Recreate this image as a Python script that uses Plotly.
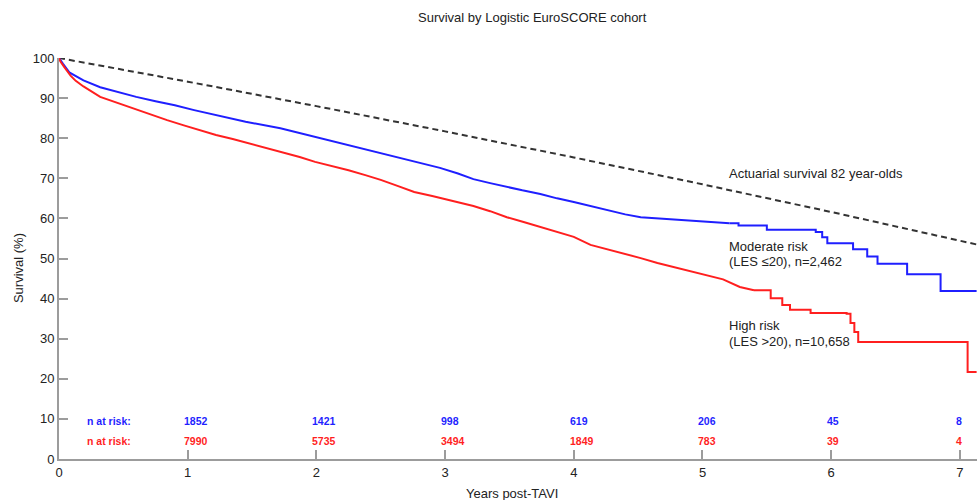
import plotly.graph_objects as go

# ---- data ----
t_mod = [0, 0.01, 0.03, 0.08, 0.19, 0.32, 0.45, 0.6, 0.75, 0.9, 1.05, 1.2, 1.45, 1.72,
         1.97, 2.24, 2.49, 2.75, 2.96, 3.1, 3.22, 3.35, 3.48, 3.6, 3.74, 3.87, 4.0, 4.15,
         4.26, 4.4, 4.52, 4.77, 5.03, 5.21, 5.28, 5.5, 5.88, 5.93, 5.97, 6.17, 6.28, 6.36,
         6.59, 6.85, 7.13]
s_mod = [100, 99.5, 98.6, 96.4, 94.4, 92.7, 91.5, 90.3, 89.2, 88.2, 87.0, 85.9, 84.1, 82.5,
         80.5, 78.3, 76.3, 74.1, 72.6, 71.2, 69.8, 68.8, 67.8, 67.0, 66.1, 65.0, 64.1, 62.9,
         62.1, 61.0, 60.3, 59.8, 59.2, 58.8, 58.2, 57.2, 56.6, 55.3, 53.8, 52.3, 50.5, 48.7,
         46.1, 41.9, 41.9]

t_high = [0, 0.01, 0.04, 0.09, 0.13, 0.19, 0.32, 0.45, 0.58, 0.71, 0.84, 0.97, 1.1, 1.22, 1.35,
          1.48, 1.61, 1.74, 1.87, 1.99, 2.12, 2.25, 2.38, 2.5, 2.63, 2.76, 2.9, 3.02, 3.22,
          3.35, 3.48, 3.61, 3.74, 3.87, 4.0, 4.13, 4.26, 4.38, 4.52, 4.65, 4.77, 4.9, 5.03,
          5.16, 5.29, 5.4, 5.53, 5.62, 5.68, 5.84, 6.12, 6.15, 6.18, 6.21, 7.06, 7.13]
s_high = [100, 99.2, 97.8, 95.6, 94.3, 92.9, 90.3, 88.8, 87.5, 85.9, 84.5, 83.2, 82.0, 80.8, 79.8,
          78.7, 77.6, 76.5, 75.3, 74.1, 73.1, 72.0, 70.8, 69.6, 68.1, 66.6, 65.6, 64.6, 63.1,
          61.8, 60.3, 59.1, 57.9, 56.7, 55.4, 53.4, 52.3, 51.4, 50.1, 48.9, 47.9, 47.0, 45.9,
          44.8, 42.9, 42.1, 40.1, 38.4, 37.2, 36.4, 36.2, 33.9, 31.7, 29.2, 21.7, 21.7]

t_act = [0, 1, 2, 3, 4, 5, 6, 7, 7.13]
s_act = [100, 94.1, 88.0, 81.7, 75.2, 68.5, 61.6, 54.4, 53.5]

risk_years = [1, 2, 3, 4, 5, 6, 7]
risk_mod = [1852, 1421, 998, 619, 206, 45, 8]
risk_high = [7990, 5735, 3494, 1849, 783, 39, 4]

BLUE = "#1f1fff"
RED = "#ff1f1f"
AXIS = "#9c9c9c"
TXT = "#222222"
FONT = "Liberation Sans, Arial, sans-serif"

fig = go.Figure()
fig.add_trace(go.Scatter(x=t_act, y=s_act, mode="lines", line=dict(color="#333333", width=2, dash="6px,4px"),
                         hoverinfo="skip"))


def add_km(t, s, color, step_from):
    # dense early part drawn as a smooth line, sparse tail drawn as steps
    k = next(i for i, v in enumerate(t) if v >= step_from)
    fig.add_trace(go.Scatter(x=t[:k + 1], y=s[:k + 1], mode="lines",
                             line=dict(color=color, width=2, shape="linear")))
    fig.add_trace(go.Scatter(x=t[k:], y=s[k:], mode="lines",
                             line=dict(color=color, width=2, shape="hv")))


add_km(t_mod, s_mod, BLUE, 5.21)
add_km(t_high, s_high, RED, 5.4)

ann = []
ann.append(dict(text="Survival by Logistic EuroSCORE cohort", xref="paper", yref="paper", x=0.516, y=1.102,
                xanchor="center", yanchor="middle", showarrow=False, font=dict(size=13, color=TXT)))
ann.append(dict(text="Years post-TAVI", xref="paper", yref="paper", x=0.4935, y=-0.085,
                xanchor="center", yanchor="middle", showarrow=False, font=dict(size=13, color=TXT)))
ann.append(dict(text="Survival (%)", xref="paper", yref="paper", x=-0.0447, y=0.476, textangle=-90,
                xanchor="center", yanchor="middle", showarrow=False, font=dict(size=13, color=TXT)))
labels = [("Actuarial survival 82 year-olds", 71.1), ("Moderate risk", 53.1), ("(LES \u226420), n=2,462", 49.2),
          ("High risk", 33.2), ("(LES >20), n=10,658", 29.25)]
for txt, yy in labels:
    ann.append(dict(text=txt, x=5.19, y=yy, xanchor="left", yanchor="middle", showarrow=False,
                    font=dict(size=13, color=TXT)))
for row_y, vals, col in [(9.55, risk_mod, BLUE), (4.56, risk_high, RED)]:
    ann.append(dict(text="<b>n at risk:</b>", x=0.202, y=row_y, xanchor="left", yanchor="middle",
                    showarrow=False, font=dict(size=10.5, color=col)))
    for yr, v in zip(risk_years, vals):
        ann.append(dict(text=f"<b>{v}</b>", x=yr, y=row_y, xanchor="left", xshift=-6, yanchor="middle",
                        showarrow=False, font=dict(size=10.5, color=col)))

fig.update_layout(
    width=977, height=500, margin=dict(l=59, r=0, t=58, b=41),
    paper_bgcolor="white", plot_bgcolor="white", showlegend=False,
    font=dict(family=FONT, color=TXT, size=13),
    annotations=ann,
    xaxis=dict(range=[0, 7.133], tickvals=[0, 1, 2, 3, 4, 5, 6, 7], ticks="inside", ticklen=9,
               tickwidth=1.5, tickcolor=AXIS, showline=True, linecolor=AXIS, linewidth=2,
               showgrid=False, zeroline=False, tickfont=dict(size=13, color=TXT)),
    yaxis=dict(range=[0, 100], tickvals=list(range(0, 101, 10)), ticks="inside", ticklen=9,
               tickwidth=1.5, tickcolor=AXIS, showline=True, linecolor=AXIS, linewidth=2,
               showgrid=False, zeroline=False, tickfont=dict(size=13, color=TXT)),
)
fig.write_html("out.html")
